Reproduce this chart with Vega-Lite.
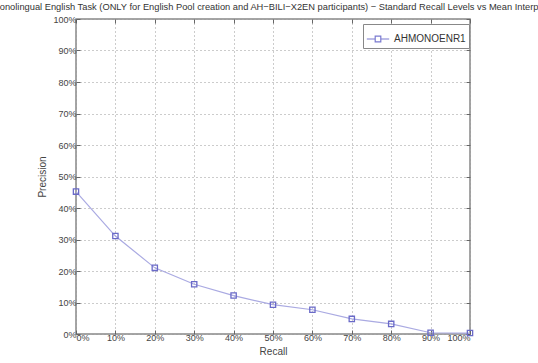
{
  "$schema": "https://vega.github.io/schema/vega-lite/v6.json",
  "width": 394,
  "height": 315,
  "autosize": "none",
  "padding": {"left": 76, "top": 19, "right": 68, "bottom": 29},
  "background": "white",
  "title": {
    "text": "Monolingual English Task (ONLY for English Pool creation and AH−BILI−X2EN participants) − Standard Recall Levels vs Mean Interpolated Precision",
    "anchor": "start",
    "frame": "group",
    "dx": -84,
    "offset": 3,
    "font": "Liberation Sans",
    "fontSize": 9.3,
    "fontWeight": "normal",
    "color": "#333333"
  },
  "config": {
    "view": {"stroke": "#888888", "strokeWidth": 1.5},
    "axis": {
      "labelFont": "Liberation Sans",
      "labelFontSize": 9,
      "labelColor": "#444444",
      "titleFont": "Liberation Sans",
      "titleFontSize": 10,
      "titleFontWeight": "normal",
      "titleColor": "#444444",
      "domain": false,
      "tickColor": "#666666",
      "tickSize": -4,
      "grid": true,
      "gridColor": "#999999",
      "gridDash": [1, 3],
      "gridOpacity": 1
    }
  },
  "data": {
    "values": [
      {"recall": 0.0, "precision": 0.452, "run": "AHMONOENR1"},
      {"recall": 0.1, "precision": 0.311, "run": "AHMONOENR1"},
      {"recall": 0.2, "precision": 0.210, "run": "AHMONOENR1"},
      {"recall": 0.3, "precision": 0.158, "run": "AHMONOENR1"},
      {"recall": 0.4, "precision": 0.122, "run": "AHMONOENR1"},
      {"recall": 0.5, "precision": 0.093, "run": "AHMONOENR1"},
      {"recall": 0.6, "precision": 0.077, "run": "AHMONOENR1"},
      {"recall": 0.7, "precision": 0.048, "run": "AHMONOENR1"},
      {"recall": 0.8, "precision": 0.032, "run": "AHMONOENR1"},
      {"recall": 0.9, "precision": 0.004, "run": "AHMONOENR1"},
      {"recall": 1.0, "precision": 0.003, "run": "AHMONOENR1"}
    ]
  },
  "layer": [
    {
      "mark": {
        "type": "line", "color": "#aaaae2", "strokeWidth": 1.2,
        "point": {"shape": "square", "size": 28, "filled": false, "stroke": "#6a6ac8", "fill": null, "strokeWidth": 1.3}
      },
      "encoding": {
        "x": {
          "field": "recall", "type": "quantitative",
          "scale": {"domain": [0, 1], "nice": false, "zero": false},
          "axis": {"format": ".0%", "values": [0,0.1,0.2,0.3,0.4,0.5,0.6,0.7,0.8,0.9,1], "title": "Recall", "titlePadding": 4, "labelPadding": 3}
        },
        "y": {
          "field": "precision", "type": "quantitative",
          "scale": {"domain": [0, 1], "nice": false},
          "axis": {"format": ".0%", "values": [0,0.1,0.2,0.3,0.4,0.5,0.6,0.7,0.8,0.9,1], "title": "Precision", "titlePadding": 5, "labelPadding": 4}
        }
      }
    },
    {
      "mark": {"type": "point", "opacity": 0},
      "encoding": {
        "x": {"field": "recall", "type": "quantitative",
          "axis": {"orient": "top", "labels": false, "title": null, "grid": false, "values": [0,0.1,0.2,0.3,0.4,0.5,0.6,0.7,0.8,0.9,1]}},
        "y": {"field": "precision", "type": "quantitative",
          "axis": {"orient": "right", "labels": false, "title": null, "grid": false, "values": [0,0.1,0.2,0.3,0.4,0.5,0.6,0.7,0.8,0.9,1]}},
        "stroke": {
          "field": "run", "type": "nominal",
          "scale": {"range": ["#7a7ad0"]},
          "legend": {
            "title": null,
            "orient": "none",
            "legendX": 287,
            "legendY": 5,
            "direction": "vertical",
            "fillColor": "white",
            "strokeColor": "#888888",
            "padding": 3,
            "symbolType": "M-1,0L-0.3,0M0.3,0L1,0M-0.25,-0.25H0.25V0.25H-0.25Z",
            "symbolSize": 500,
            "symbolStrokeWidth": 1.2,
            "symbolOpacity": 1,
            "symbolFillColor": "transparent",
            "labelFont": "Liberation Sans",
            "labelFontSize": 10,
            "labelColor": "#333333",
            "symbolStrokeColor": "#7a7ad0"
          }
        }
      }
    }
  ],
  "resolve": {"axis": {"x": "independent", "y": "independent"}}
}
